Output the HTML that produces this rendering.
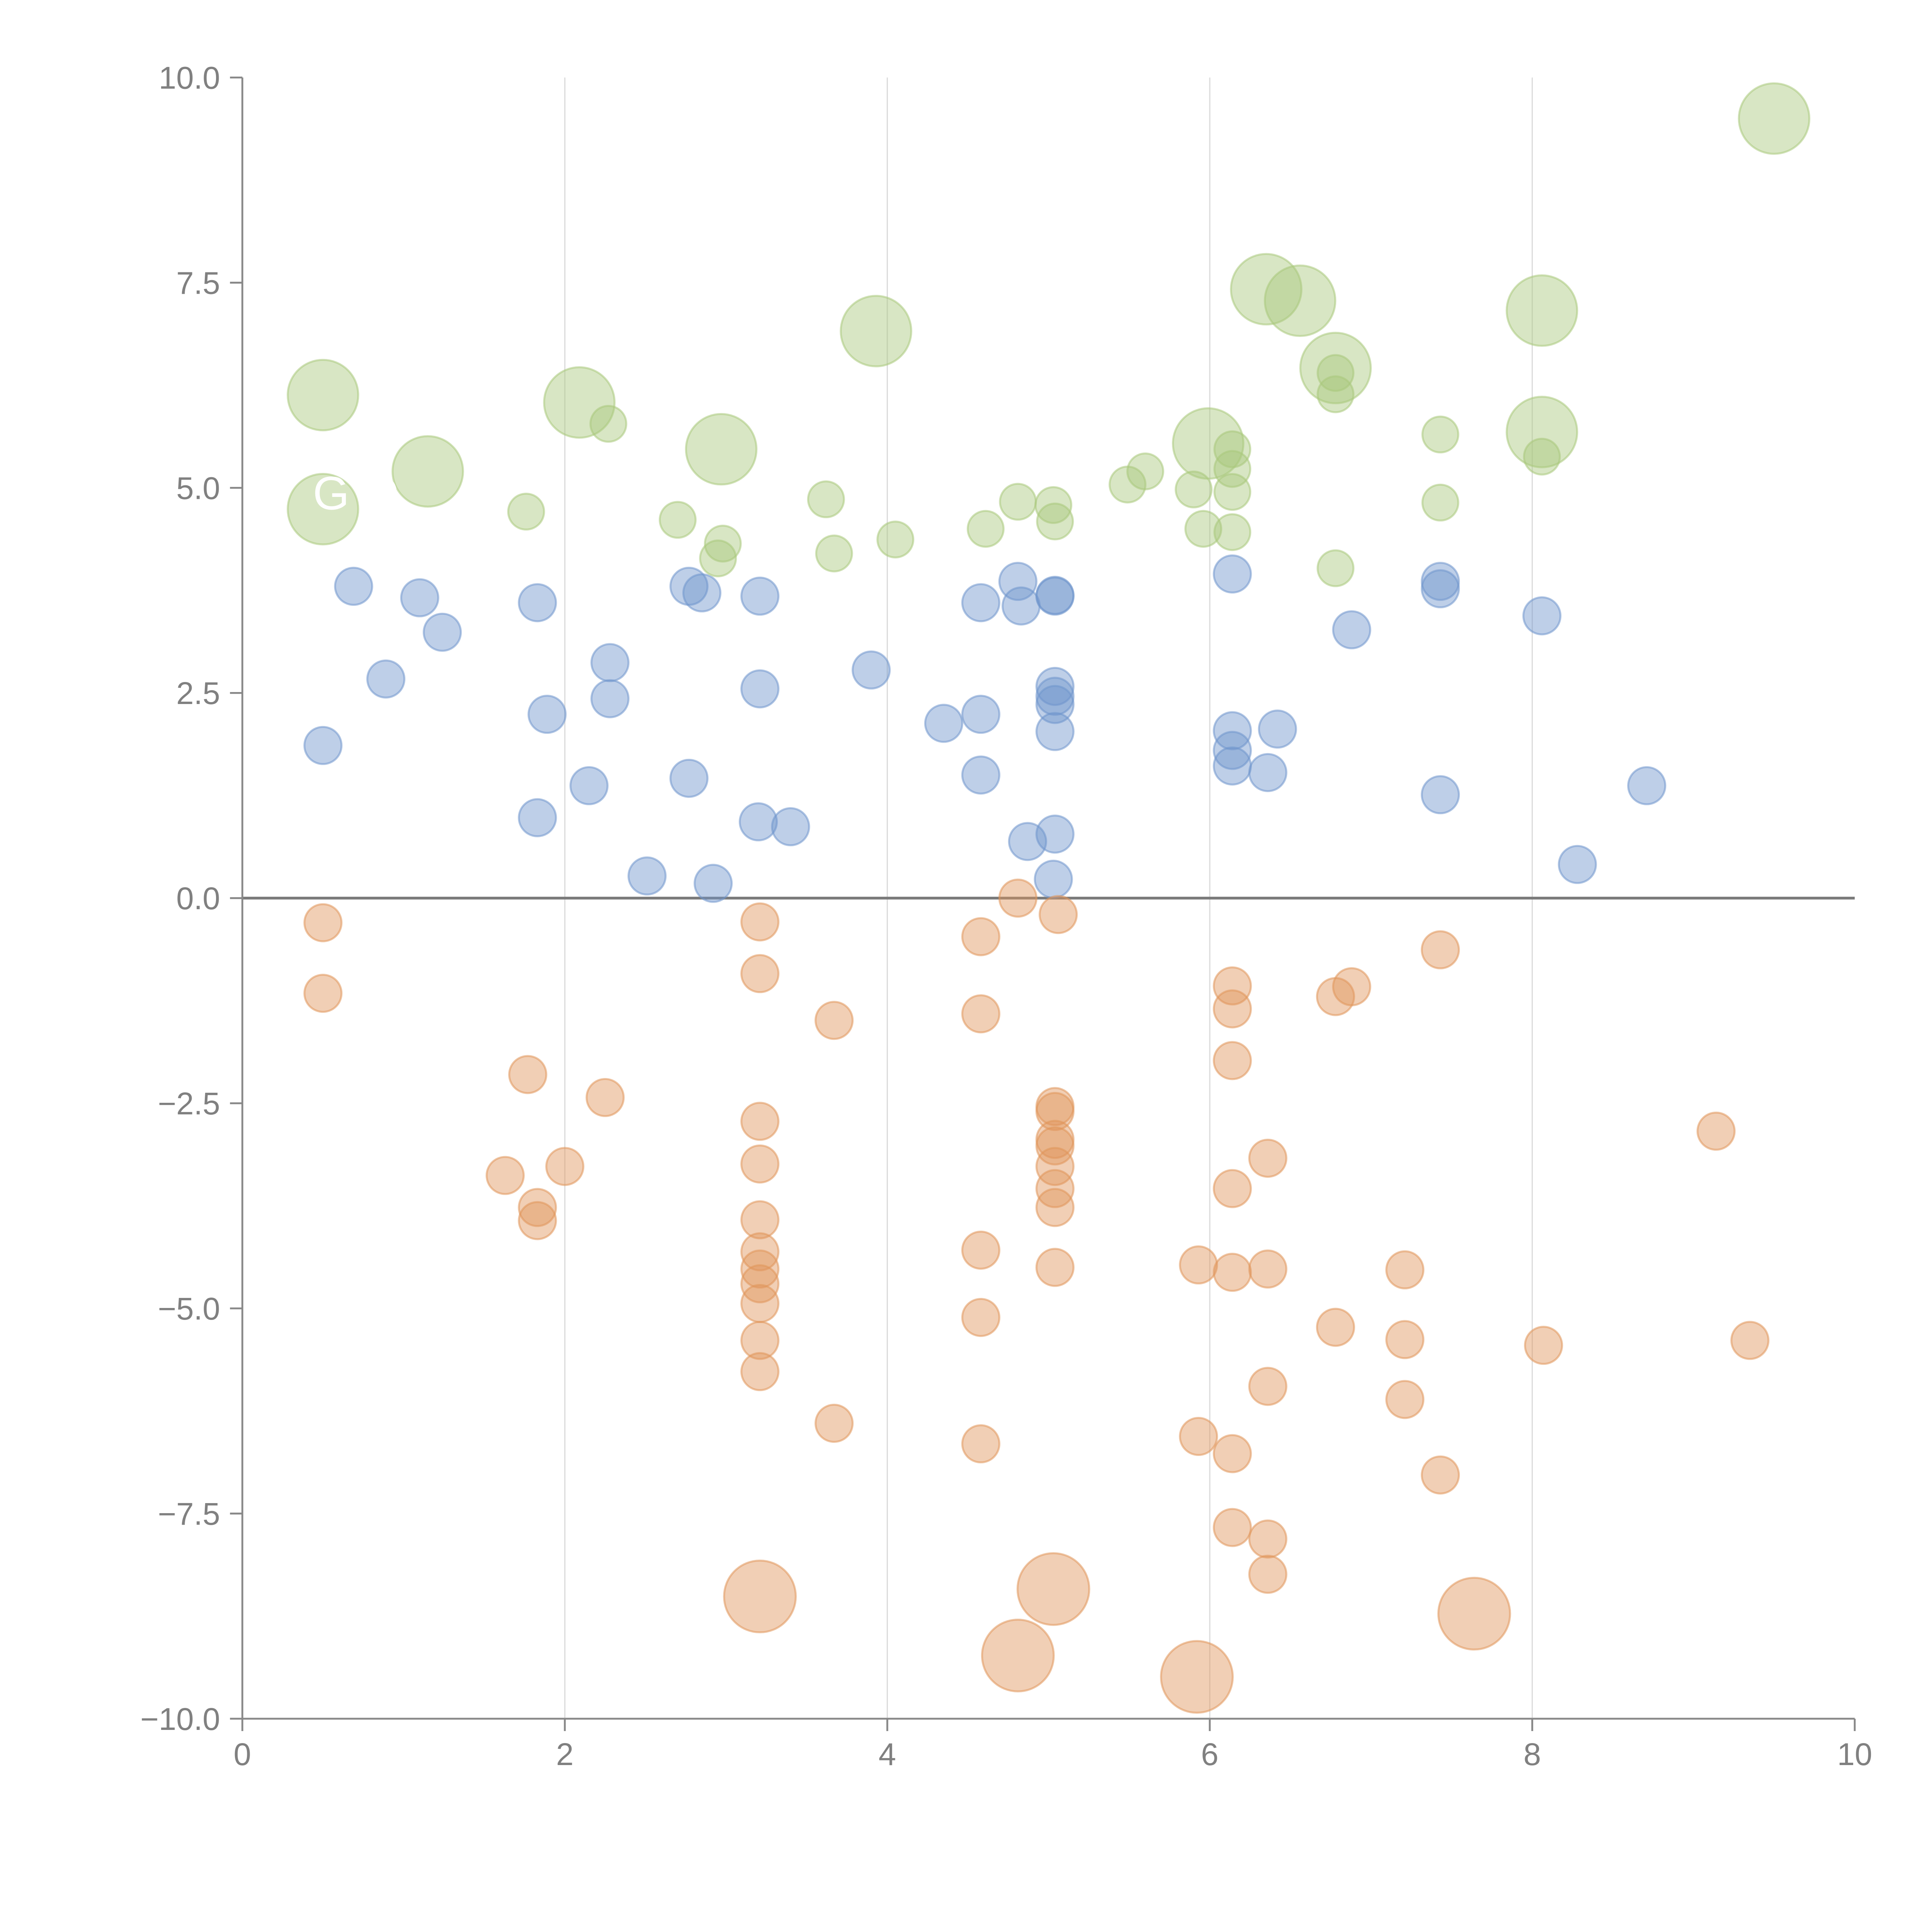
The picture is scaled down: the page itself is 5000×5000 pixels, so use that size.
<!DOCTYPE html>
<html><head><meta charset="utf-8"><style>html,body{margin:0;padding:0;background:#fff}svg{display:block}</style></head>
<body>
<svg id="chart" width="5000" height="5000" viewBox="0 0 1562.5 1562.5" xmlns="http://www.w3.org/2000/svg" font-family="'Liberation Sans', sans-serif">
<g id="grid"></g>
<g id="marks"></g>
<g id="axes"></g>
<g id="labels"></g>
</svg>
<script>
const xTicks = [0, 2, 4, 6, 8, 10];
const yTicks = [-10, -7.5, -5, -2.5, 0, 2.5, 5, 7.5, 10];
const yTickLabels = ["\u221210.0","\u22127.5","\u22125.0","\u22122.5","0.0","2.5","5.0","7.5","10.0"];

const greenBigX = [0.50,0.50,1.15,2.09,2.97,3.93,5.99,6.35,6.56,6.78,8.06,8.06,9.50];
const greenBigY = [6.13,4.74,5.20,6.04,5.47,6.91,5.54,7.42,7.28,6.46,7.16,5.68,9.50];
const greenX = [2.27,1.76,2.70,2.98,2.95,3.62,3.67,4.05,4.61,4.81,5.03,5.04,5.49,5.60,5.90,5.96,6.14,6.14,6.14,6.14,6.78,6.78,6.78,7.43,7.43,8.06];
const greenY = [5.78,4.71,4.61,4.32,4.14,4.86,4.20,4.37,4.50,4.83,4.79,4.59,5.04,5.20,4.98,4.50,5.47,5.23,4.95,4.46,4.02,6.40,6.14,5.65,4.82,5.38];
const blueX = [0.69,1.10,1.24,0.89,0.50,1.83,1.89,1.83,2.15,2.28,2.28,2.51,2.77,2.85,2.77,2.92,3.21,3.21,3.20,3.40,3.90,4.35,4.58,4.58,4.58,4.81,4.83,5.04,5.04,5.04,5.04,5.04,5.04,5.04,5.03,4.87,6.14,6.14,6.14,6.14,6.36,6.42,6.88,7.43,7.43,7.43,8.06,8.28,8.71];
const blueY = [3.80,3.66,3.24,2.67,1.86,3.60,2.24,0.98,1.37,2.87,2.43,0.27,3.80,3.72,1.46,0.18,3.68,2.55,0.93,0.87,2.78,2.13,3.60,2.24,1.50,3.86,3.56,3.69,3.68,2.58,2.46,2.36,2.03,0.78,0.23,0.69,3.95,2.04,1.80,1.61,1.53,2.06,3.27,3.86,3.77,1.26,3.44,0.41,1.37];
const orangeX = [0.50,0.50,1.77,2.25,1.63,2.00,1.83,1.83,3.21,3.21,3.21,3.21,3.21,3.21,3.21,3.21,3.21,3.21,3.21,3.67,3.67,4.58,4.58,4.58,4.58,4.58,4.81,5.06,5.04,5.04,5.04,5.04,5.04,5.04,5.04,5.04,5.93,5.93,6.14,6.14,6.14,6.14,6.14,6.14,6.14,6.36,6.36,6.36,6.36,6.36,6.78,6.88,6.78,7.21,7.21,7.21,7.43,7.43,8.07,9.14,9.35];
const orangeY = [-0.30,-1.16,-2.15,-2.43,-3.38,-3.27,-3.77,-3.93,-0.29,-0.92,-2.72,-3.24,-3.92,-4.31,-4.52,-4.70,-4.94,-5.39,-5.77,-1.49,-6.40,-0.47,-1.41,-4.29,-5.11,-6.65,0.00,-0.20,-2.54,-2.60,-2.94,-3.02,-3.27,-3.54,-3.77,-4.50,-4.47,-6.56,-1.07,-1.35,-1.98,-3.54,-4.56,-6.77,-7.67,-3.17,-4.52,-5.95,-7.81,-8.24,-1.20,-1.08,-5.23,-4.53,-5.38,-6.11,-0.63,-7.03,-5.45,-2.84,-5.39];
const orangeBigX = [3.21,4.81,5.03,5.92,7.64];
const orangeBigY = [-8.51,-9.23,-8.42,-9.49,-8.72];

const NS = "http://www.w3.org/2000/svg";
const X0 = 196, X1 = 1500, Y0 = 1390, Y1 = 62.7;
function sx(v){ return X0 + (v - 0) / 10 * (X1 - X0); }
function sy(v){ return Y0 - (v + 10) / 20 * (Y0 - Y1); }
function mk(tag, attrs, parent){ const e = document.createElementNS(NS, tag); for (const k in attrs) e.setAttribute(k, attrs[k]); parent.appendChild(e); return e; }

const grid = document.getElementById('grid');
const marks = document.getElementById('marks');
const axes = document.getElementById('axes');

xTicks.forEach(function(t){
  if (t > 0 && t < 10) {
    const g = mk('line', {x1:sx(t), x2:sx(t), y1:Y1, y2:Y0, stroke:'#dcdcdc', 'stroke-width':1}, grid);
    
    
  }
});
const zl = mk('line', {x1:X0, x2:X1, y1:sy(0), y2:sy(0), stroke:'#7a7a7a', 'stroke-width':2.2}, grid);



function series(xs, ys, r, fill, stroke, name){
  for (let i = 0; i < xs.length; i++){
    const c = mk('circle', {cx:sx(xs[i]), cy:sy(ys[i]), r:r, fill:fill, 'fill-opacity':0.45, stroke:stroke, 'stroke-opacity':0.55, 'stroke-width':1.6}, marks);
    
    
  }
}
series(blueX, blueY, 15, '#6f95cc', '#6f95cc', 'blue-bubble');
series(orangeX, orangeY, 15, '#e0955a', '#e0955a', 'orange-bubble');
series(orangeBigX, orangeBigY, 29, '#e0955a', '#e0955a', 'orange-big-bubble');
series(greenX, greenY, 14.5, '#a9c87c', '#a9c87c', 'green-bubble');
series(greenBigX, greenBigY, 28.5, '#a9c87c', '#a9c87c', 'green-big-bubble');

const ya = mk('line', {x1:X0, x2:X0, y1:Y1, y2:Y0, stroke:'#888', 'stroke-width':1.5}, axes);


const xa = mk('line', {x1:X0, x2:X1, y1:Y0, y2:Y0, stroke:'#888', 'stroke-width':1.5}, axes);


yTicks.forEach(function(t, i){
  const tk = mk('line', {x1:X0-10, x2:X0, y1:sy(t), y2:sy(t), stroke:'#888', 'stroke-width':1.5}, axes);
  
  
  const tx = mk('text', {x:X0-18, y:sy(t)+9, 'text-anchor':'end', 'font-size':25.5, fill:'#808080'}, axes);
  tx.textContent = yTickLabels[i];
  
  
});
xTicks.forEach(function(t){
  const tk = mk('line', {x1:sx(t), x2:sx(t), y1:Y0, y2:Y0+10, stroke:'#888', 'stroke-width':1.5}, axes);
  
  
  const tx = mk('text', {x:sx(t), y:Y0+37.5, 'text-anchor':'middle', 'font-size':25.5, fill:'#808080'}, axes);
  tx.textContent = String(t);
  
  
});

const labels = document.getElementById('labels');
const lt = mk('text', {x:253, y:412, 'font-size':38, fill:'#ffffff'}, labels);
lt.textContent = 'G  O';


</script>
</body></html>
